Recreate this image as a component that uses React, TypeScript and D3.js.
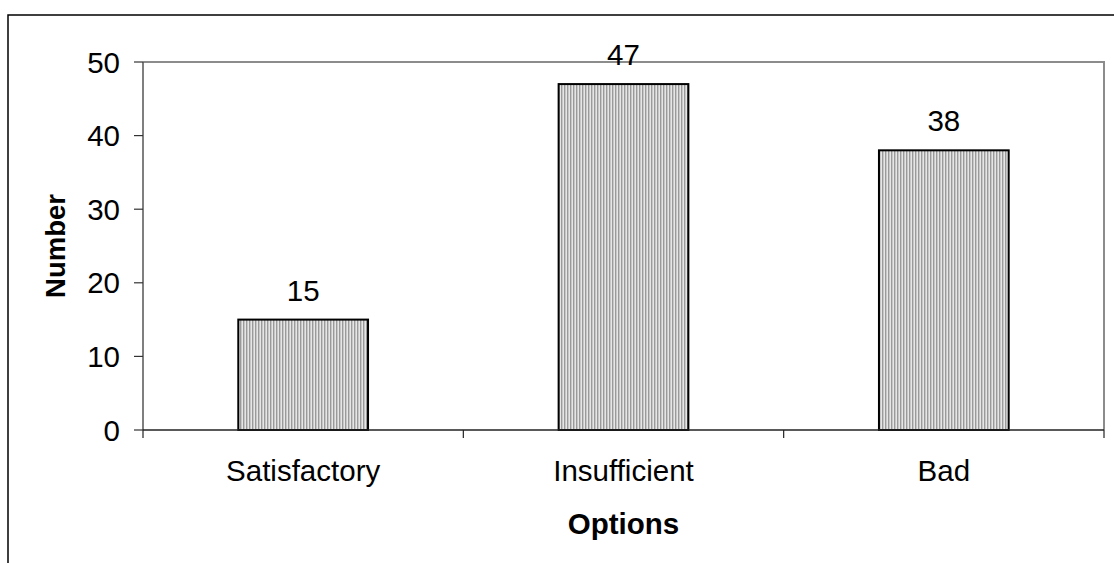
import React from "react";
import * as d3 from "d3";

const categories = ["Satisfactory", "Insufficient", "Bad"];
const values = [15, 47, 38];
const yTicks = [0, 10, 20, 30, 40, 50];

export default function App() {
  const W = 1114, H = 563;
  const left = 143, right = 1104, top = 62, bottom = 430;
  const x = d3.scaleBand<string>().domain(categories).range([left, right]).paddingInner(0).paddingOuter(0);
  const y = d3.scaleLinear().domain([0, 50]).range([bottom, top]);
  const barW = x.bandwidth() * 0.405;
  const font = "Arial, 'Liberation Sans', sans-serif";
  const fs = 29.5;
  const boundaries = [left, ...categories.map((c) => (x(c) as number) + x.bandwidth())];
  return (
    <svg width={W} height={H} style={{ position: "absolute", left: 0, top: 0, display: "block" }}>
      <defs>
        <pattern id="stripes" width="3" height="4" patternUnits="userSpaceOnUse">
          <rect x="0" y="0" width="3" height="4" fill="#e6e6e6" />
          <rect x="0" y="0" width="1.4" height="4" fill="#9a9a9a" />
        </pattern>
      </defs>
      <rect x={0} y={0} width={W} height={H} fill="#fff" />
      <rect x={8} y={15} width={W + 20} height={H + 20} fill="none" stroke="#000" strokeWidth={1.5} />
      <path d={`M${left},${top}H${right}V${bottom}`} fill="none" stroke="#8c8c8c" strokeWidth={2} />
      {categories.map((c, i) => {
        const cx = (x(c) as number) + x.bandwidth() / 2;
        return (
          <g key={c}>
            <rect x={cx - barW / 2} y={y(values[i])} width={barW} height={bottom - y(values[i])} fill="url(#stripes)" stroke="#000" strokeWidth={2} />
            <text x={cx} y={y(values[i]) - 19} textAnchor="middle" fontFamily={font} fontSize={fs} fill="#000">{values[i]}</text>
            <text x={cx} y={481} textAnchor="middle" fontFamily={font} fontSize={fs} fill="#000">{c}</text>
          </g>
        );
      })}
      <line x1={left} x2={left} y1={top} y2={bottom} stroke="#555" strokeWidth={1.5} />
      {yTicks.map((t) => (
        <g key={t}>
          <line x1={134} x2={left} y1={y(t)} y2={y(t)} stroke="#333" strokeWidth={1.2} />
          <text x={120} y={y(t) + 10.5} textAnchor="end" fontFamily={font} fontSize={fs} fill="#000">{t}</text>
        </g>
      ))}
      <line x1={left} x2={right} y1={bottom} y2={bottom} stroke="#222" strokeWidth={1.5} />
      {boundaries.map((b, i) => (
        <line key={i} x1={b} x2={b} y1={bottom} y2={438} stroke="#222" strokeWidth={1.2} />
      ))}
      <text x={(left + right) / 2} y={534} textAnchor="middle" fontFamily={font} fontSize={fs} fontWeight="bold" fill="#000">Options</text>
      <text transform={`translate(65,246) rotate(-90)`} textAnchor="middle" fontFamily={font} fontSize={27.5} fontWeight="bold" fill="#000">Number</text>
    </svg>
  );
}
